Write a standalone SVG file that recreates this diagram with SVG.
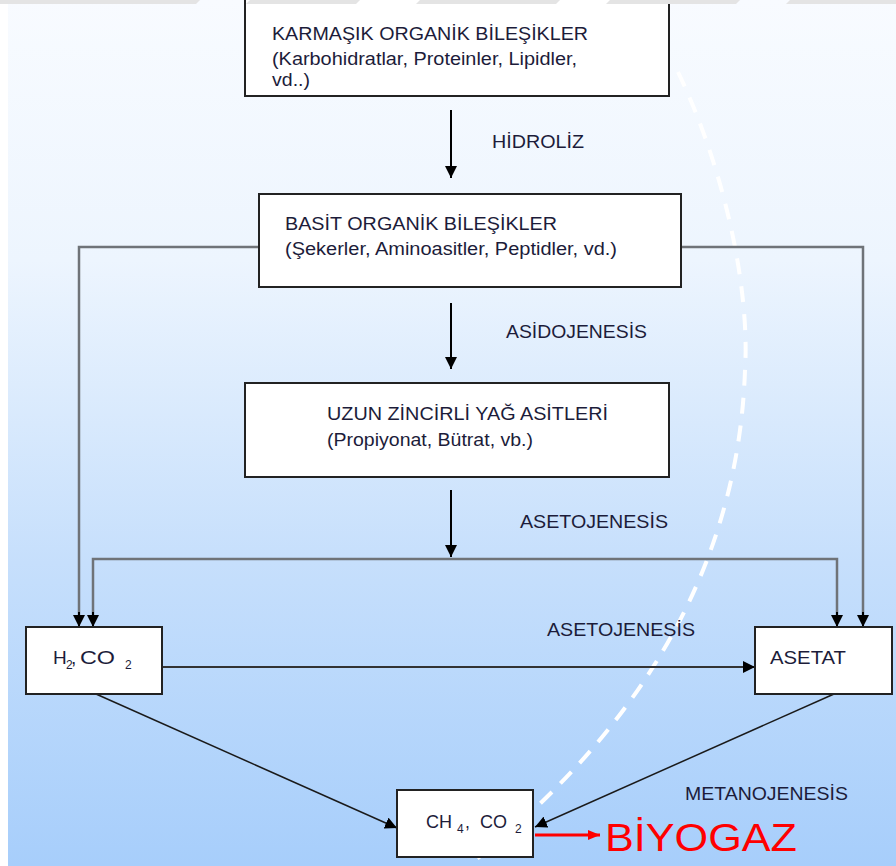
<svg xmlns="http://www.w3.org/2000/svg" width="896" height="866" viewBox="0 0 896 866">
  <defs>
    <linearGradient id="bg" x1="0" y1="0" x2="0" y2="1">
      <stop offset="0" stop-color="#f8fbff"/>
      <stop offset="0.3" stop-color="#edf5fe"/>
      <stop offset="0.65" stop-color="#c6dffc"/>
      <stop offset="1" stop-color="#a7cefb"/>
    </linearGradient>
    <marker id="ah" viewBox="0 0 12 12" refX="12" refY="6" markerWidth="12" markerHeight="12" markerUnits="userSpaceOnUse" orient="auto">
      <path d="M0,0 L12,6 L0,12 Z" fill="#000"/>
    </marker>
    <marker id="ahr" viewBox="0 0 12 12" refX="12" refY="6" markerWidth="12" markerHeight="12" markerUnits="userSpaceOnUse" orient="auto">
      <path d="M0,1 L12,6 L0,11 Z" fill="#ff0000"/>
    </marker>
  </defs>
  <style>
    .box { fill: #ffffff; stroke: #222222; stroke-width: 2; }
    .t { font-family: "Liberation Sans", Arial, sans-serif; font-size: 17.5px; fill: #1c1c3a; }
    .s { font-family: "Liberation Sans", Arial, sans-serif; font-size: 19px; fill: #1c1c3a; }
    .sub { font-size: 12px; }
    .grey { fill: none; stroke: #6f7378; stroke-width: 2.5; }
    .blk { fill: none; stroke: #000; stroke-width: 2; }
    .thin { fill: none; stroke: #1a1a1a; stroke-width: 1.5; }
  </style>
  <rect x="0" y="0" width="896" height="866" fill="url(#bg)"/>
  <rect x="0" y="0" width="8" height="866" fill="#ffffff"/>

  <!-- dashed white curve -->
  <path d="M678,72 C725,170 750,290 745,370 C740,520 680,700 468,866" fill="none" stroke="#ffffff" stroke-width="4" stroke-dasharray="16,12"/>

  <g id="connectors">
    <line class="blk" x1="451" y1="110" x2="451" y2="178" marker-end="url(#ah)"/>
    <line class="blk" x1="451" y1="303" x2="451" y2="369" marker-end="url(#ah)"/>
    <line class="blk" x1="451" y1="490" x2="451" y2="557" marker-end="url(#ah)"/>
    <polyline class="grey" points="259,247 79,247 79,615"/>
    <polyline class="grey" points="681,247 863,247 863,615"/>
    <polyline class="grey" points="93,615 93,559 837,559 837,615"/>
    <line x1="79" y1="612" x2="79" y2="627" stroke="#000" stroke-width="2" marker-end="url(#ah)"/>
    <line x1="93" y1="612" x2="93" y2="627" stroke="#000" stroke-width="2" marker-end="url(#ah)"/>
    <line x1="837" y1="612" x2="837" y2="627" stroke="#000" stroke-width="2" marker-end="url(#ah)"/>
    <line x1="863" y1="612" x2="863" y2="627" stroke="#000" stroke-width="2" marker-end="url(#ah)"/>
    <line x1="162" y1="667" x2="755" y2="667" stroke="#333" stroke-width="2" marker-end="url(#ah)"/>
    <line class="thin" x1="96" y1="694" x2="397" y2="828" marker-end="url(#ah)"/>
    <line class="thin" x1="834" y1="694" x2="535" y2="827" marker-end="url(#ah)"/>
    <line x1="535" y1="835" x2="600" y2="835" stroke="#ff0000" stroke-width="3" marker-end="url(#ahr)"/>
  </g>

  <g id="node-karmasik">
    <rect class="box" x="245" y="-6" width="424" height="102"/>
    <text class="t" x="272" y="40" textLength="316" lengthAdjust="spacingAndGlyphs">KARMAŞIK ORGANİK BİLEŞİKLER</text>
    <text class="t" x="272" y="65" textLength="305" lengthAdjust="spacingAndGlyphs">(Karbohidratlar, Proteinler, Lipidler,</text>
    <text class="t" x="272" y="86" textLength="38" lengthAdjust="spacingAndGlyphs">vd..)</text>
  </g>

  <g id="node-basit">
    <rect class="box" x="259" y="194" width="422" height="93"/>
    <text class="t" x="285" y="230" textLength="272" lengthAdjust="spacingAndGlyphs">BASİT ORGANİK BİLEŞİKLER</text>
    <text class="t" x="285" y="255" textLength="332" lengthAdjust="spacingAndGlyphs">(Şekerler, Aminoasitler, Peptidler, vd.)</text>
  </g>

  <g id="node-uzun">
    <rect class="box" x="245" y="383" width="424" height="94"/>
    <text class="t" x="327" y="420" textLength="281" lengthAdjust="spacingAndGlyphs">UZUN ZİNCİRLİ YAĞ ASİTLERİ</text>
    <text class="t" x="327" y="446" textLength="206" lengthAdjust="spacingAndGlyphs">(Propiyonat, Bütrat, vb.)</text>
  </g>

  <g id="node-h2co2">
    <rect class="box" x="26" y="627" width="136" height="67"/>
    <text class="s" x="53" y="664">H<tspan class="sub" x="66" y="669">2</tspan><tspan x="71" y="664">,</tspan><tspan x="80" y="664" textLength="35" lengthAdjust="spacingAndGlyphs">CO</tspan><tspan class="sub" x="125" y="669">2</tspan></text>
  </g>

  <g id="node-asetat">
    <rect class="box" x="755" y="627" width="137" height="67"/>
    <text class="t" x="770" y="664" textLength="76" lengthAdjust="spacingAndGlyphs">ASETAT</text>
  </g>

  <g id="node-ch4co2">
    <rect class="box" x="397" y="790" width="136" height="67"/>
    <text class="t" x="426" y="828" textLength="26" lengthAdjust="spacingAndGlyphs">CH</text>
    <text class="t sub" x="457" y="833">4</text>
    <text class="t" x="465" y="828">,</text>
    <text class="t" x="480" y="828" textLength="27" lengthAdjust="spacingAndGlyphs">CO</text>
    <text class="t sub" x="515" y="833">2</text>
  </g>

  <g id="labels">
    <text class="t" x="492" y="148" textLength="92" lengthAdjust="spacingAndGlyphs">HİDROLİZ</text>
    <text class="t" x="506" y="338" textLength="141" lengthAdjust="spacingAndGlyphs">ASİDOJENESİS</text>
    <text class="t" x="520" y="528" textLength="148" lengthAdjust="spacingAndGlyphs">ASETOJENESİS</text>
    <text class="t" x="547" y="636" textLength="148" lengthAdjust="spacingAndGlyphs">ASETOJENESİS</text>
    <text class="t" x="685" y="800" textLength="163" lengthAdjust="spacingAndGlyphs">METANOJENESİS</text>
    <text x="605" y="851" font-family="Liberation Sans, Arial, sans-serif" font-size="38" fill="#ff0000" textLength="192" lengthAdjust="spacingAndGlyphs">BİYOGAZ</text>
  </g>

  <!-- faint top watermark band -->
  <g fill="#e4e4e4">
    <polygon points="0,0 200,0 196,4 0,4"/>
    <polygon points="250,0 360,0 356,4 246,4"/>
    <polygon points="420,0 560,0 556,4 416,4"/>
    <polygon points="610,0 740,0 736,4 606,4"/>
    <polygon points="790,0 896,0 896,4 786,4"/>
  </g>
</svg>
